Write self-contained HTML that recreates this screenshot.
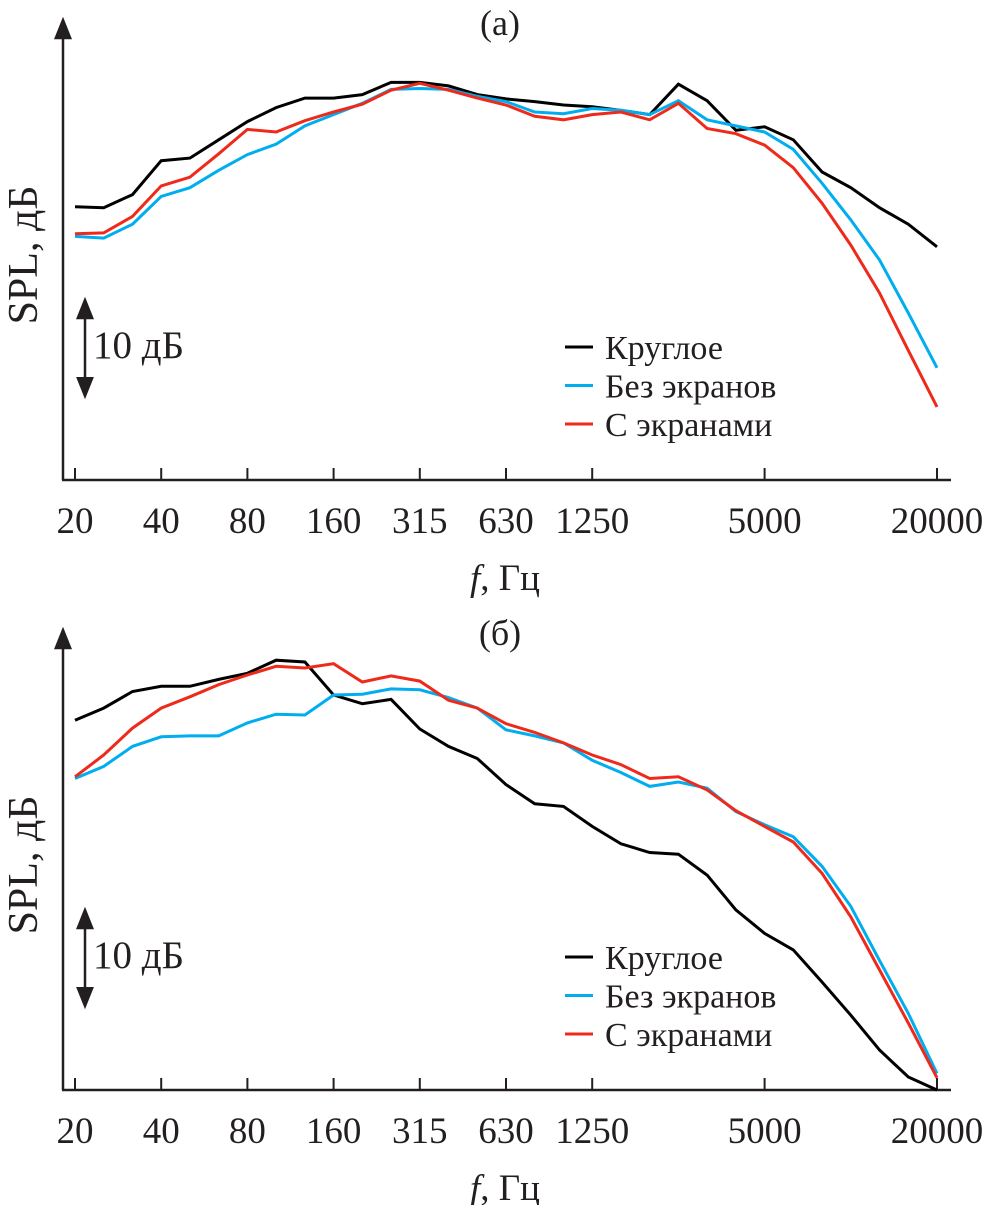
<!DOCTYPE html>
<html><head><meta charset="utf-8">
<style>
body{margin:0;background:#fff;}
svg{display:block;font-family:"Liberation Serif",serif;}
</style></head>
<body>
<svg id="chart" width="989" height="1205" viewBox="0 0 989 1205" xmlns="http://www.w3.org/2000/svg">
<defs>
<marker id="ah" viewBox="0 0 10 10" refX="5" refY="5" markerWidth="9" markerHeight="9" orient="auto-start-reverse"><path d="M0,1 L10,5 L0,9 z" fill="#231f20"/></marker>
</defs>
</svg>
<script>
const freqs = ["20","25","31.5","40","50","63","80","100","125","160","200","250","315","400","500","630","800","1000","1250","1600","2000","2500","3150","4000","5000","6300","8000","10000","12500","16000","20000"];
const tickLabels = ["20","40","80","160","315","630","1250","5000","20000"];
const aRound = [31.4,31.3,32.8,36.7,37.0,39.1,41.2,42.8,43.9,43.9,44.3,45.7,45.7,45.3,44.3,43.8,43.5,43.1,42.9,42.5,42.0,45.5,43.6,40.2,40.6,39.1,35.4,33.6,31.3,29.4,26.8];
const aNoScreen = [28.0,27.8,29.4,32.6,33.6,35.6,37.4,38.6,40.7,42.0,43.3,44.9,45.0,44.9,44.1,43.5,42.3,42.1,42.7,42.5,42.0,43.6,41.4,40.7,40.0,38.0,34.1,29.9,25.3,19.2,12.9];
const aScreen = [28.3,28.4,30.3,33.8,34.8,37.5,40.3,40.0,41.3,42.3,43.2,44.8,45.6,44.8,43.9,43.1,41.8,41.4,42.0,42.3,41.4,43.3,40.4,39.8,38.5,35.9,31.8,27.0,21.5,14.9,8.4];
const bRound = [42.5,43.9,45.8,46.4,46.4,47.2,47.9,49.4,49.2,45.4,44.4,44.9,41.5,39.5,38.1,35.1,32.9,32.6,30.3,28.3,27.3,27.1,24.7,20.7,18.0,16.1,12.4,8.6,4.6,1.5,0];
const bNoScreen = [35.8,37.2,39.5,40.6,40.7,40.7,42.2,43.2,43.1,45.4,45.5,46.1,46.0,45.1,43.9,41.4,40.7,39.9,37.9,36.5,34.9,35.4,34.7,32.0,30.5,29.1,25.7,21.1,14.9,8.8,1.9];
const bScreen = [36.0,38.5,41.6,43.9,45.2,46.6,47.7,48.7,48.5,49.0,46.9,47.6,47.0,44.8,43.9,42.1,41.1,39.9,38.5,37.4,35.8,36.0,34.5,32.1,30.3,28.5,24.9,19.9,13.8,7.7,1.4];
const legendNames = ["Круглое","Без экранов","С экранами"];
const colors = ["#000000","#00aeef","#ee2a1b"];

const svg = document.getElementById('chart');
const NS = "http://www.w3.org/2000/svg";
function mk(tag, attrs, parent){const e=document.createElementNS(NS,tag);for(const k in attrs)e.setAttribute(k,attrs[k]);(parent||svg).appendChild(e);return e;}
function xIdx(i){return 75 + i*(862/30);}
function xFreq(label){return xIdx(freqs.indexOf(label));}

function panel(base, title, series, key){
  const yOf = v => base - 8.7*v;
  const g = mk('g',{});
  
  
  const t = mk('text',{x:500,y:base-445,'font-size':36,'text-anchor':'middle',fill:'#231f20'},g);
  t.textContent = title;
  
  
  const ya = mk('line',{x1:63,y1:base,x2:63,y2:base-452,stroke:'#231f20','stroke-width':2.5,'marker-end':'url(#ah)'},g);
  
  
  const xa = mk('line',{x1:62,y1:base,x2:951,y2:base,stroke:'#231f20','stroke-width':2.5},g);
  
  
  tickLabels.forEach(l=>{
    const x = xFreq(l);
    const tk = mk('line',{x1:x,y1:base,x2:x,y2:base-12,stroke:'#231f20','stroke-width':2},g);
    
    
    const tl = mk('text',{x:x,y:base+53,'font-size':37,'text-anchor':'middle',fill:'#231f20'},g);
    tl.textContent = l;
    
    
  });
  const xt = mk('text',{x:505,y:base+110,'font-size':37,'text-anchor':'middle',fill:'#231f20'},g);
  xt.innerHTML = '<tspan font-style="italic">f</tspan>, Гц';
  
  
  const yt = mk('text',{x:0,y:0,'font-size':42,'text-anchor':'middle',fill:'#231f20',transform:`translate(37,${base-225}) rotate(-90)`},g);
  yt.textContent = 'SPL, дБ';
  
  
  const sa = mk('line',{x1:85,y1:base-172,x2:85,y2:base-92,stroke:'#231f20','stroke-width':2.5,'marker-start':'url(#ah)','marker-end':'url(#ah)'},g);
  
  
  const st = mk('text',{x:93,y:base-122,'font-size':39,fill:'#231f20'},g);
  st.textContent = '10 дБ';
  
  
  series.forEach((vals,s)=>{
    const d = vals.map((v,i)=>(i?'L':'M')+xIdx(i).toFixed(1)+','+yOf(v).toFixed(1)).join(' ');
    const p = mk('path',{d:d,fill:'none',stroke:colors[s],'stroke-width':3,'stroke-linejoin':'miter'},g);
    
    
  });
  legendNames.forEach((n,s)=>{
    const ly = base-133+s*38.5;
    const ll = mk('line',{x1:565,y1:ly,x2:593,y2:ly,stroke:colors[s],'stroke-width':3},g);
    
    
    const lt = mk('text',{x:605,y:ly+12,'font-size':34,fill:'#231f20'},g);
    lt.textContent = n;
    
    
  });
}
panel(480,'(а)',[aRound,aNoScreen,aScreen],'a');
panel(1090,'(б)',[bRound,bNoScreen,bScreen],'b');
</script>
</body></html>
